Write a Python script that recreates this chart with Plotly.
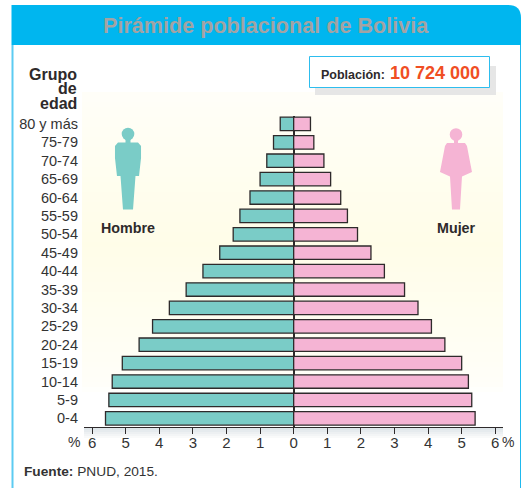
import plotly.graph_objects as go

grupos = ["0-4", "5-9", "10-14", "15-19", "20-24", "25-29", "30-34", "35-39", "40-44",
          "45-49", "50-54", "55-59", "60-64", "65-69", "70-74", "75-79", "80 y más"]
hombre = [5.6, 5.5, 5.4, 5.1, 4.6, 4.2, 3.7, 3.2, 2.7, 2.2, 1.8, 1.6, 1.3, 1.0, 0.8, 0.6, 0.4]
mujer = [5.4, 5.3, 5.2, 5.0, 4.5, 4.1, 3.7, 3.3, 2.7, 2.3, 1.9, 1.6, 1.4, 1.1, 0.9, 0.6, 0.5]
ticks = [-6, -5, -4, -3, -2, -1, 0, 1, 2, 3, 4, 5, 6]
tick_labels = ["6", "5", "4", "3", "2", "1", "0", "1", "2", "3", "4", "5", "6"]

W, H = 526, 488
FONT = "Liberation Sans"
TEAL, PINK, INK = "#7accc7", "#f5b4d4", "#2e2a2b"
BLUE = "#00b6ef"


def px(x):
    return x / W


def py(y):
    return 1 - y / H


def poly(points, fill):
    d = "M" + " L".join(f"{px(x):.4f},{py(y):.4f}" for x, y in points) + " Z"
    return dict(type="path", path=d, xref="paper", yref="paper", fillcolor=fill,
                line=dict(width=0), layer="below")


def rect(x0, y0, x1, y1, fill, line=None, lw=0, layer="below"):
    return dict(type="rect", xref="paper", yref="paper", x0=px(x0), x1=px(x1), y0=py(y0), y1=py(y1),
                fillcolor=fill, line=dict(width=lw, color=line or fill), layer=layer)


def circle(cx, cy, r, fill):
    return dict(type="circle", xref="paper", yref="paper", x0=px(cx - r), x1=px(cx + r),
                y0=py(cy + r), y1=py(cy - r), fillcolor=fill, line=dict(width=0), layer="below")


def mix(t):
    a, b = (255, 255, 255), (255, 253, 232)
    return "rgb(" + ",".join(str(round(a[i] + (b[i] - a[i]) * t)) for i in range(3)) + ")"


shapes = []
# background wash
for i in range(60):
    y0 = 92 + i * 5
    d = 0.3 + 0.7 * (y0 - 92) / 150 if y0 < 242 else max(0, 0.3 + 0.7 * (380 - y0) / 138)
    if y0 >= 380:
        d = max(0, 0.3 * (392 - y0) / 12)
    shapes.append(rect(82, y0, 503, y0 + 5, mix(min(d, 1))))
# shadow beneath the axis
for i, c in enumerate(["#dfe6ea", "#e6ebee", "#edf0f2", "#f3f5f6", "#f9fafa"]):
    shapes.append(rect(84, 428 + i * 2, 503, 430 + i * 2, c))
# frame and title band
shapes += [
    rect(11.5, 45, 13.5, 488, "#5ccbf2"),
    rect(520, 45, 521, 488, "#1fb9ee"),
    dict(type="path", xref="paper", yref="paper", layer="below", fillcolor=BLUE,
         line=dict(width=0),
         path=f"M{px(11.5)},{py(45)} L{px(11.5)},{py(5)} L{px(508)},{py(5)} "
              f"Q{px(521)},{py(5)} {px(521)},{py(18)} L{px(521)},{py(45)} Z"),
    rect(315, 66, 496, 95, "#e6e6e6"),
    rect(309.5, 56.5, 489.5, 87.5, "#ffffff", line="#2dbdee", lw=1, layer="below"),
]
# man icon
shapes += [
    circle(128, 134, 6.3, TEAL),
    rect(125.5, 139, 130.5, 144, TEAL),
    poly([(118, 142.5), (138, 142.5), (141, 146), (141, 158), (139, 176), (135.5, 176),
          (133, 209.5), (123, 209.5), (120.5, 176), (117, 176), (115, 158), (115, 146)], TEAL),
]
# woman icon
shapes += [
    circle(456, 134.5, 6.3, PINK),
    rect(454, 139, 458, 144, PINK),
    poly([(447, 143), (465, 143), (467, 146), (472, 172), (462, 176.5), (460, 209.5), (452, 209.5),
          (450, 176.5), (440, 172), (445, 146)], PINK),
]

fig = go.Figure()
fig.add_bar(y=grupos, x=[-v for v in hombre], orientation="h", name="Hombre", marker_color=TEAL,
            marker_line=dict(color=INK, width=1.3), showlegend=False)
fig.add_bar(y=grupos, x=mujer, orientation="h", name="Mujer", marker_color=PINK,
            marker_line=dict(color=INK, width=1.3), showlegend=False)


def note(x, y, text, size, color=INK, bold=False, anchor="center", family=FONT):
    return dict(xref="paper", yref="paper", x=px(x), y=py(y), text=f"<b>{text}</b>" if bold else text,
                showarrow=False, xanchor=anchor, yanchor="middle", borderpad=0,
                font=dict(family=family, size=size, color=color))


annotations = [
    note(266, 25, "Pirámide poblacional de Bolivia", 21.6, "#a3a3a3", True),
    note(77.5, 75, "Grupo", 16, INK, True, "right"),
    note(77.5, 89, "de", 16, INK, True, "right"),
    note(77.5, 103, "edad", 16, INK, True, "right"),
    note(320, 75, "Población:", 12.5, INK, True, "left"),
    note(388.5, 73, "10 724 000", 18, "#f04e23", True, "left"),
    note(128, 228, "Hombre", 14.3, INK, True),
    note(456, 228, "Mujer", 14.3, INK, True),
    note(74, 442, "%", 14, "#333333"),
    note(508, 442, "%", 14, "#333333"),
    note(23, 471, "<b>Fuente:</b> PNUD, 2015.", 13.7, "#333333", False, "left"),
]

fig.update_layout(
    width=W, height=H, margin=dict(l=0, r=0, t=0, b=0),
    paper_bgcolor="white", plot_bgcolor="rgba(0,0,0,0)",
    barmode="relative", bargap=0.27, shapes=shapes, annotations=annotations,
    font=dict(family=FONT, color="#333333"),
    xaxis=dict(domain=[px(84), px(503)], range=[-6.24, 6.23], tickvals=ticks, ticktext=tick_labels,
               showgrid=False, ticks="outside", ticklen=6, tickwidth=1, tickcolor=INK,
               ticklabelstandoff=-4,
               showline=True, linecolor=INK, linewidth=1.2, zeroline=True, zerolinecolor=INK,
               zerolinewidth=1.5, tickfont=dict(size=15, color="#333333"), fixedrange=True),
    yaxis=dict(domain=[py(427), py(116)], range=[-0.47, 16.43], type="category",
               categoryorder="array", categoryarray=grupos, showgrid=False, showline=False,
               ticks="", ticklabelstandoff=5, tickfont=dict(size=14.5, color="#333333"), fixedrange=True,
               zeroline=False),
)
fig.write_html("out.html", config={"displayModeBar": False},
               post_script="document.body.style.margin='0';document.body.style.overflow='hidden';")
